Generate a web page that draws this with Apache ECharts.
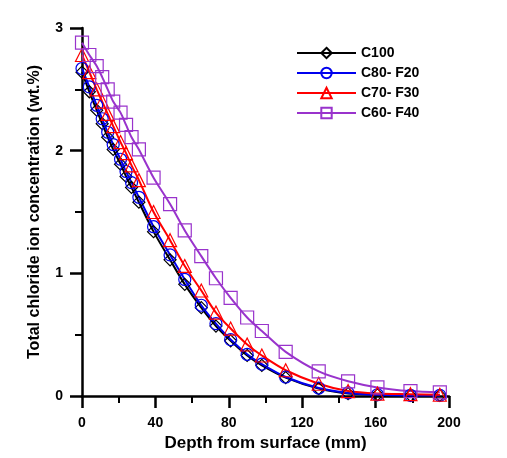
<!DOCTYPE html>
<html>
<head>
<meta charset="utf-8">
<script src="https://cdn.jsdelivr.net/npm/echarts@6/dist/echarts.min.js"></script>
<style>html,body{margin:0;padding:0;background:#fff;}#c{width:507px;height:458px;}</style>
</head>
<body>
<div id="c"></div>
<script>
const depth = [0,4,8,11,14,17,21,24,27,31,39,48,56,65,73,81,90,98,111,129,145,161,179,195];
const c100   = [2.64,2.48,2.33,2.22,2.11,2.01,1.89,1.79,1.70,1.58,1.34,1.11,0.91,0.72,0.57,0.45,0.33,0.25,0.15,0.06,0.02,0.01,0.005,0.005];
const c80f20 = [2.67,2.52,2.37,2.26,2.15,2.05,1.93,1.83,1.74,1.62,1.38,1.15,0.95,0.74,0.59,0.46,0.34,0.26,0.155,0.065,0.025,0.01,0.005,0.005];
const c70f30 = [2.78,2.64,2.50,2.40,2.30,2.20,2.07,1.98,1.88,1.76,1.50,1.27,1.06,0.86,0.68,0.55,0.42,0.33,0.21,0.10,0.04,0.02,0.015,0.01];
const c60f40 = [2.88,2.78,2.69,2.60,2.50,2.40,2.31,2.21,2.11,2.01,1.78,1.565,1.35,1.14,0.96,0.80,0.64,0.53,0.36,0.20,0.12,0.07,0.04,0.03];
const seriesNames = ['C100','C80- F20','C70- F30','C60- F40'];
const xTicks = [0,40,80,120,160,200];
const yTicks = [0,1,2,3];

const font = 'Liberation Sans, Arial, sans-serif';
const chart = echarts.init(document.getElementById('c'), null, {renderer:'canvas'});
function mk(name, vals, color, symbol, size){
  return {
    name, type:'line', data: depth.map((d,i)=>[d, vals[i]]),
    smooth: 0.3, symbol, symbolSize: size, clip:false,
    lineStyle:{color, width:2},
    itemStyle:{color:'rgba(255,255,255,0)', borderColor: color, borderWidth:1.2},
    emphasis:{disabled:true}
  };
}
chart.setOption({
  animation:false,
  backgroundColor:'#fff',
  grid:{left:82, right:58, top:28, bottom:62},
  legend:{
    orient:'vertical', left:291, top:41, itemWidth:59, itemHeight:13, itemGap:6,
    textStyle:{fontFamily:font, fontWeight:'bold', fontSize:14, color:'#000'},
    data: seriesNames
  },
  xAxis:{
    type:'value', min:0, max:200, interval:40,
    name:'Depth from surface (mm)', nameLocation:'middle', nameGap:36,
    nameTextStyle:{fontFamily:font, fontWeight:'bold', fontSize:17, color:'#000'},
    axisLine:{lineStyle:{color:'#000', width:2.5}},
    axisTick:{inside:false, length:12, lineStyle:{color:'#000', width:2.5}},
    minorTick:{show:true, splitNumber:2, length:7, lineStyle:{color:'#000', width:2}},
    splitLine:{show:false},
    axisLabel:{margin:20, fontFamily:font, fontWeight:'bold', fontSize:14, color:'#000',
      formatter:v=> xTicks.includes(v) ? String(v) : ''}
  },
  yAxis:{
    type:'value', min:0, max:3, interval:1,
    name:'Total chloride ion concentration (wt.%)', nameLocation:'middle', nameGap:39,
    nameTextStyle:{fontFamily:font, fontWeight:'bold', fontSize:16, color:'#000'},
    axisLine:{show:true, lineStyle:{color:'#000', width:2.5}},
    axisTick:{show:true, inside:false, length:12, lineStyle:{color:'#000', width:2.5}},
    minorTick:{show:true, splitNumber:2, length:7, lineStyle:{color:'#000', width:2}},
    splitLine:{show:false},
    axisLabel:{margin:19, fontFamily:font, fontWeight:'bold', fontSize:14, color:'#000',
      formatter:v=> yTicks.includes(v) ? String(v) : ''}
  },
  series:[
    mk(seriesNames[0], c100, '#000000', 'diamond', 12),
    mk(seriesNames[1], c80f20, '#0000ee', 'circle', 12),
    mk(seriesNames[2], c70f30, '#ff0000', 'triangle', 13),
    mk(seriesNames[3], c60f40, '#9933cc', 'rect', 13)
  ]
});
</script>
</body>
</html>
